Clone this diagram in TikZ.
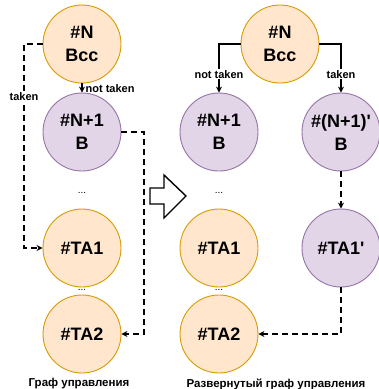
\documentclass[tikz,border=0pt]{standalone}
\usepackage{fontspec}
\setmainfont{Liberation Sans}
\usetikzlibrary{arrows.meta}
\definecolor{orfill}{HTML}{FFE6CC}
\definecolor{ordraw}{HTML}{D79B00}
\definecolor{pufill}{HTML}{E1D5E7}
\definecolor{pudraw}{HTML}{9673A6}
\tikzset{
  blk/.style={circle, minimum size=78pt, inner sep=0pt, line width=0.9pt,
    align=center, font=\fontsize{18}{23}\selectfont\bfseries},
  orblk/.style={blk, fill=orfill, draw=ordraw},
  publk/.style={blk, fill=pufill, draw=pudraw},
  edge/.style={line width=1.3pt, -{Stealth[length=6pt,width=6pt]}},
  dedge/.style={edge, dash pattern=on 6pt off 4pt},
  lbl/.style={fill=white, inner sep=1pt, font=\fontsize{11}{13}\selectfont\bfseries},
  dots/.style={font=\fontsize{10}{12}\selectfont, inner sep=0pt},
  caption/.style={font=\fontsize{11.5}{14}\selectfont\bfseries}
}
\begin{document}
\begin{tikzpicture}[x=1pt, y=-1pt]
\useasboundingbox (0,0) rectangle (379,389);

% original control-flow graph
\node[orblk] (bcc) at (82,44) {\#N\\Bcc};
\node[publk] (n1) at (82,132) {\#N+1\\B};
\node[orblk] (ta1) at (82,248) {\#TA1};
\node[orblk] (ta2) at (82,334) {\#TA2};
\node[dots] (d1) at (82,193) {...};
\node[dots] (d2) at (82,290) {...};

\coordinate (lt) at (24,44);
\coordinate (lb) at (24,248);
\draw[dedge] (bcc.west) -- (lt) -- node[lbl, pos=0.26] {taken} (lb) -- (ta1.west);
\draw[edge] (bcc.south) -- node[lbl, fill=none, anchor=west, pos=0.55, xshift=2pt] {not taken} (n1.north);
\coordinate (rt) at (144,132);
\coordinate (rb) at (144,334);
\draw[dedge] (n1.east) -- (rt) -- (rb) -- (ta2.east);

% transformation arrow
\draw[line width=1.4pt, fill=white, line join=miter]
  (150,188) -- (164,188) -- (164,175) -- (186,196) -- (164,218) -- (164,204) -- (150,204) -- cycle;

% unrolled control-flow graph
\node[orblk] (rbcc) at (280,44) {\#N\\Bcc};
\node[publk] (rn1) at (219,132) {\#N+1\\B};
\node[publk] (rn1p) at (341,132) {\#(N+1)\textquotesingle\\B};
\node[orblk] (rta1) at (219,248) {\#TA1};
\node[publk] (rta1p) at (341,248) {\#TA1\textquotesingle};
\node[orblk] (rta2) at (219,334) {\#TA2};
\node[dots] (rd1) at (219,193) {...};
\node[dots] (rd2) at (219,290) {...};

\draw[edge] (rbcc.west) -| node[lbl, pos=0.81] {not taken} (rn1.north);
\draw[edge] (rbcc.east) -| node[lbl, pos=0.81] {taken} (rn1p.north);
\draw[dedge] (rn1p.south) -- (rta1p.north);
\draw[dedge] (rta1p.south) |- (rta2.east);

% captions
\node[caption] (cap1) at (79,384) {Граф управления};
\node[caption] (cap2) at (276,384) {Развернутый граф управления};
\end{tikzpicture}
\end{document}
